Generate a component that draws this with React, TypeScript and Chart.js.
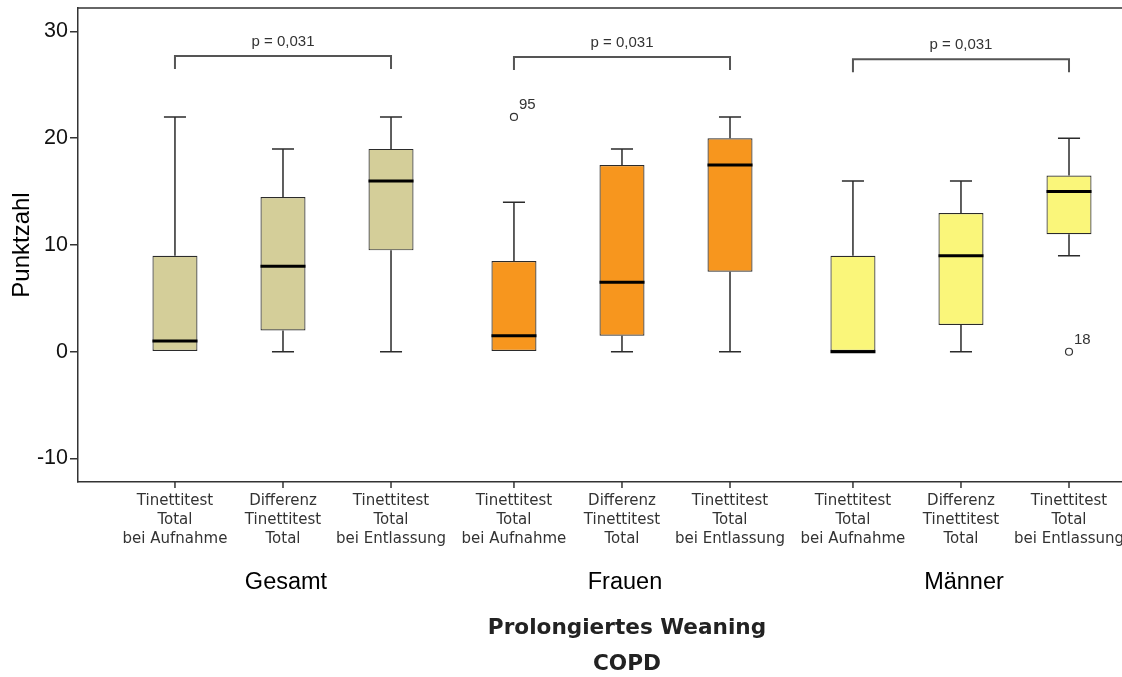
import React, { useEffect, useRef } from 'react';
import { Chart, registerables } from 'chart.js';

Chart.register(...registerables);

// ---- data ----
const groups = ['Gesamt', 'Frauen', 'Männer'];
const measureNames = [
  'Tinettitest Total bei Aufnahme',
  'Differenz Tinettitest Total',
  'Tinettitest Total bei Entlassung',
];
const measureLabelLines = [
  ['Tinettitest', 'Total', 'bei Aufnahme'],
  ['Differenz', 'Tinettitest', 'Total'],
  ['Tinettitest', 'Total', 'bei Entlassung'],
];

const aufnahmeMin = [0, 0, 0];
const aufnahmeQ1 = [0, 0, 0];
const aufnahmeMedian = [1, 1.5, 0];
const aufnahmeQ3 = [9, 8.5, 9];
const aufnahmeMax = [22, 14, 16];

const differenzMin = [0, 0, 0];
const differenzQ1 = [2, 1.5, 2.5];
const differenzMedian = [8, 6.5, 9];
const differenzQ3 = [14.5, 17.5, 13];
const differenzMax = [19, 19, 16];

const entlassungMin = [0, 0, 9];
const entlassungQ1 = [9.5, 7.5, 11];
const entlassungMedian = [16, 17.5, 15];
const entlassungQ3 = [19, 20, 16.5];
const entlassungMax = [22, 22, 20];

const outlierMeasure = [0, 2];
const outlierGroup = [1, 2];
const outlierValue = [22, 0];
const outlierLabel = ['95', '18'];

const pTexts = ['p = 0,031', 'p = 0,031', 'p = 0,031'];
const pLevels = [27.7, 27.6, 27.4];

const yTicks = [-10, 0, 10, 20, 30];
const yTitle = 'Punktzahl';
const titleLines = ['Prolongiertes Weaning', 'COPD'];

// ---- styles ----
const groupColors = ['#d4ce99', '#f7961e', '#faf67a'];
const AXIS = '#333333';
const SANS = '"Liberation Sans", Arial, sans-serif';
const LUCIDA = '"DejaVu Sans", sans-serif';

const stats = [
  { min: aufnahmeMin, q1: aufnahmeQ1, med: aufnahmeMedian, q3: aufnahmeQ3, max: aufnahmeMax },
  { min: differenzMin, q1: differenzQ1, med: differenzMedian, q3: differenzQ3, max: differenzMax },
  { min: entlassungMin, q1: entlassungQ1, med: entlassungMedian, q3: entlassungQ3, max: entlassungMax },
];

const boxPlugin = {
  id: 'boxExtras',
  afterDatasetsDraw(chart: any) {
    const ctx = chart.ctx as CanvasRenderingContext2D;
    const ys = chart.scales.y;
    const py = (v: number) => ys.getPixelForValue(v);
    ctx.save();
    stats.forEach((s, d) => {
      const meta = chart.getDatasetMeta(d);
      meta.data.forEach((el: any, g: number) => {
        const { x: cx, width: w } = el.getProps(['x', 'width'], true);
        const cap = w * 0.245;
        ctx.strokeStyle = '#2b2b2b';
        ctx.lineWidth = 1.5;
        if (s.max[g] > s.q3[g]) {
          ctx.beginPath();
          ctx.moveTo(cx, py(s.q3[g]));
          ctx.lineTo(cx, py(s.max[g]));
          ctx.moveTo(cx - cap, py(s.max[g]));
          ctx.lineTo(cx + cap, py(s.max[g]));
          ctx.stroke();
        }
        if (s.min[g] < s.q1[g]) {
          ctx.beginPath();
          ctx.moveTo(cx, py(s.q1[g]));
          ctx.lineTo(cx, py(s.min[g]));
          ctx.moveTo(cx - cap, py(s.min[g]));
          ctx.lineTo(cx + cap, py(s.min[g]));
          ctx.stroke();
        }
        ctx.strokeStyle = '#000';
        ctx.lineWidth = 3;
        ctx.beginPath();
        ctx.moveTo(cx - w / 2, py(s.med[g]));
        ctx.lineTo(cx + w / 2, py(s.med[g]));
        ctx.stroke();
      });
    });

    // outliers
    outlierValue.forEach((v, i) => {
      const el = chart.getDatasetMeta(outlierMeasure[i]).data[outlierGroup[i]];
      const cx = el.getProps(['x'], true).x;
      const cy = py(v);
      ctx.beginPath();
      ctx.arc(cx, cy, 3.5, 0, Math.PI * 2);
      ctx.fillStyle = '#fff';
      ctx.fill();
      ctx.strokeStyle = '#333';
      ctx.lineWidth = 1.2;
      ctx.stroke();
      ctx.font = `15px ${SANS}`;
      ctx.fillStyle = '#333';
      ctx.textAlign = 'left';
      ctx.textBaseline = 'middle';
      ctx.fillText(outlierLabel[i], cx + 5, cy - 12);
    });

    // significance brackets
    pLevels.forEach((lvl, g) => {
      const x1 = chart.getDatasetMeta(0).data[g].getProps(['x'], true).x;
      const x2 = chart.getDatasetMeta(2).data[g].getProps(['x'], true).x;
      const yb = py(lvl);
      ctx.strokeStyle = '#555';
      ctx.lineWidth = 2;
      ctx.beginPath();
      ctx.moveTo(x1, yb + 13);
      ctx.lineTo(x1, yb);
      ctx.lineTo(x2, yb);
      ctx.lineTo(x2, yb + 13);
      ctx.stroke();
      ctx.font = `15px ${SANS}`;
      ctx.fillStyle = '#333';
      ctx.textAlign = 'center';
      ctx.textBaseline = 'middle';
      ctx.fillText(pTexts[g], (x1 + x2) / 2, yb - 14);
    });
    ctx.restore();
  },
};

const labelPlugin = {
  id: 'labelExtras',
  afterDraw(chart: any) {
    const ctx = chart.ctx as CanvasRenderingContext2D;
    const a = chart.chartArea;
    const xs = chart.scales.x;
    ctx.save();
    ctx.strokeStyle = AXIS;
    ctx.lineWidth = 1.5;
    ctx.beginPath();
    ctx.moveTo(a.left, a.top);
    ctx.lineTo(a.right, a.top);
    ctx.stroke();

    ctx.textAlign = 'center';
    ctx.textBaseline = 'middle';
    measureLabelLines.forEach((lines, d) => {
      chart.getDatasetMeta(d).data.forEach((el: any) => {
        const x = el.getProps(['x'], true).x;
        ctx.strokeStyle = AXIS;
        ctx.lineWidth = 1.5;
        ctx.beginPath();
        ctx.moveTo(x, a.bottom);
        ctx.lineTo(x, a.bottom + 6);
        ctx.stroke();
        ctx.font = `15px ${LUCIDA}`;
        ctx.fillStyle = '#333';
        lines.forEach((t, i) => ctx.fillText(t, x, a.bottom + 19 + i * 19));
      });
    });

    ctx.font = `23.5px ${SANS}`;
    ctx.fillStyle = '#000';
    groups.forEach((name, g) => ctx.fillText(name, xs.getPixelForValue(g) + 3, a.bottom + 101));

    ctx.font = `bold 21.6px ${LUCIDA}`;
    ctx.fillStyle = '#222';
    titleLines.forEach((t, i) => ctx.fillText(t, xs.getPixelForValue(1) + 5, a.bottom + 146 + i * 36));
    ctx.restore();
  },
};

export default function App() {
  const ref = useRef<HTMLCanvasElement>(null);
  useEffect(() => {
    const chart = new Chart(ref.current as HTMLCanvasElement, {
      type: 'bar',
      data: {
        datasets: stats.map((s, d) => ({
          label: measureNames[d],
          data: groups.map((_, g) => ({ x: g, y: [s.q1[g], s.q3[g]] })),
          backgroundColor: groupColors,
          borderColor: '#2b2b2b',
          borderWidth: 1.2,
          borderSkipped: false,
          categoryPercentage: 0.956,
          barPercentage: 0.4167,
        })) as any,
      },
      options: {
        responsive: false,
        animation: false,
        layout: { padding: { top: 8, left: 0, right: 0, bottom: 0 } },
        plugins: {
          legend: { display: false },
          tooltip: { enabled: false },
          title: { display: false },
        },
        scales: {
          x: {
            type: 'linear',
            min: -0.6047,
            max: 2.475,
            offset: false,
            afterBuildTicks: (s: any) => {
              s.ticks = groups.map((_, g) => ({ value: g }));
            },
            grid: { display: false, drawTicks: false },
            ticks: { display: false },
            border: { display: true, color: AXIS, width: 1.5 },
            afterFit: (s: any) => {
              s.height = 195;
              s.paddingLeft = 0;
              s.paddingRight = 0;
            },
          },
          y: {
            min: -12.2,
            max: 32.2,
            afterBuildTicks: (s: any) => {
              s.ticks = yTicks.map((v) => ({ value: v }));
            },
            ticks: {
              font: { family: SANS, size: 21.5 },
              color: '#111',
              padding: 2,
            },
            grid: { display: true, drawOnChartArea: false, drawTicks: true, tickLength: 8, color: AXIS, lineWidth: 1.5 },
            border: { display: true, color: AXIS, width: 1.5 },
            title: {
              display: true,
              text: yTitle,
              font: { family: SANS, size: 24 },
              color: '#000',
              padding: { top: 8, bottom: 0 },
            },
            afterFit: (s: any) => {
              s.width = 78;
              s.paddingTop = 0;
              s.paddingBottom = 0;
            },
          },
        } as any,
      },
      plugins: [boxPlugin, labelPlugin],
    });
    return () => chart.destroy();
  }, []);
  return (
    <div style={{ position: 'fixed', left: 0, top: 0, width: 1122, height: 677, overflow: 'hidden', background: '#fff' }}>
      <canvas ref={ref} width={1122} height={677} style={{ display: 'block' }} />
    </div>
  );
}
